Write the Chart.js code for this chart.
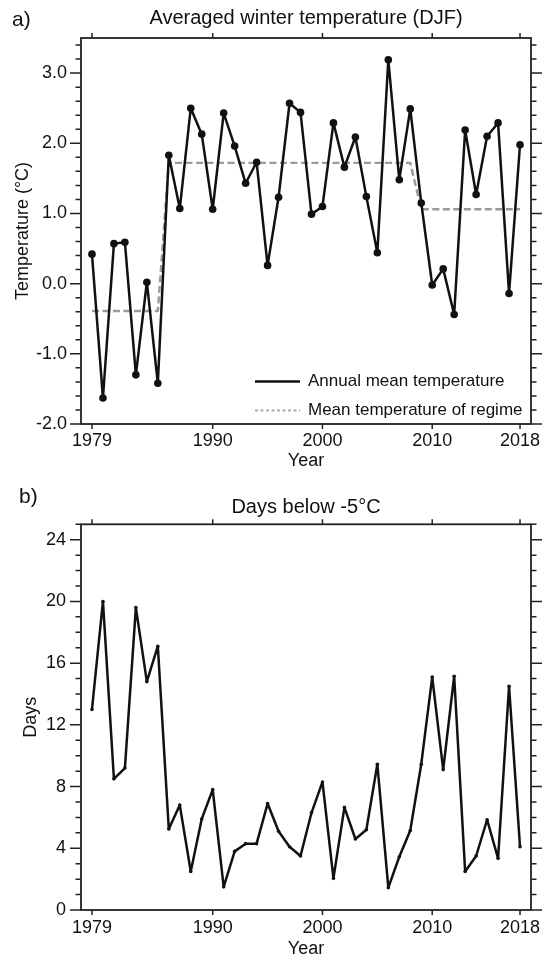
<!DOCTYPE html>
<html>
<head>
<meta charset="utf-8">
<script src="https://cdn.jsdelivr.net/npm/chart.js@4.4.0/dist/chart.umd.min.js"></script>
<style>
  html, body { margin: 0; padding: 0; background: #fff; }
  body { width: 549px; height: 960px; overflow: hidden; }
  .panel { position: relative; width: 549px; }
  #panel-a { height: 475px; }
  #panel-b { height: 485px; }
</style>
</head>
<body>
<div class="panel" id="panel-a"><canvas id="chart-a"></canvas></div>
<div class="panel" id="panel-b"><canvas id="chart-b"></canvas></div>
<script>
const YEARS = [1979, 1980, 1981, 1982, 1983, 1984, 1985, 1986, 1987, 1988,
  1989, 1990, 1991, 1992, 1993, 1994, 1995, 1996, 1997, 1998,
  1999, 2000, 2001, 2002, 2003, 2004, 2005, 2006, 2007, 2008,
  2009, 2010, 2011, 2012, 2013, 2014, 2015, 2016, 2017, 2018];

// winter (DJF) mean temperature, degC
const WINTER_TEMP = [0.42, -1.63, 0.57, 0.59, -1.30, 0.02, -1.42, 1.83, 1.07, 2.50,
  2.13, 1.06, 2.43, 1.96, 1.43, 1.73, 0.26, 1.23, 2.57, 2.44,
  0.99, 1.10, 2.29, 1.66, 2.09, 1.24, 0.44, 3.19, 1.48, 2.49,
  1.15, -0.02, 0.21, -0.44, 2.19, 1.27, 2.10, 2.29, -0.14, 1.98];

// mean of each regime
const REGIME_TEMP = [-0.39, -0.39, -0.39, -0.39, -0.39, -0.39, -0.39, 1.72, 1.72, 1.72,
  1.72, 1.72, 1.72, 1.72, 1.72, 1.72, 1.72, 1.72, 1.72, 1.72,
  1.72, 1.72, 1.72, 1.72, 1.72, 1.72, 1.72, 1.72, 1.72, 1.72,
  1.06, 1.06, 1.06, 1.06, 1.06, 1.06, 1.06, 1.06, 1.06, 1.06];

// days below -5 degC
const COLD_DAYS = [13.0, 20.0, 8.5, 9.2, 19.6, 14.8, 17.1, 5.25, 6.8, 2.5,
  5.9, 7.8, 1.5, 3.8, 4.3, 4.3, 6.9, 5.1, 4.1, 3.5,
  6.3, 8.3, 2.05, 6.65, 4.6, 5.2, 9.45, 1.45, 3.45, 5.15,
  9.45, 15.1, 9.1, 15.15, 2.5, 3.5, 5.85, 3.35, 14.5, 4.1];

const X_TICKS = [1979, 1990, 2000, 2010, 2018];

const FONT = "'Liberation Sans', Arial, Helvetica, sans-serif";
Chart.defaults.font.family = FONT;
Chart.defaults.color = '#111';

const toPoints = vals => YEARS.map((yr, i) => ({ x: yr, y: vals[i] }));

// box around the plot, outward major/minor ticks, panel title and letter
function frameTicks(opts) {
  return {
    id: 'frameTicks',
    afterDraw(chart) {
      const { ctx, chartArea: a, scales: { x, y } } = chart;
      ctx.save();
      ctx.strokeStyle = '#222';
      ctx.lineWidth = 1.8;
      ctx.strokeRect(a.left, a.top, a.right - a.left, a.bottom - a.top);

      ctx.lineWidth = 1.5;
      ctx.beginPath();
      const majors = y.ticks.map(t => t.value);
      majors.forEach(v => {
        const p = y.getPixelForValue(v);
        ctx.moveTo(a.left - 11, p); ctx.lineTo(a.left, p);
        ctx.moveTo(a.right, p); ctx.lineTo(a.right + 11, p);
      });
      for (let v = y.min; v <= y.max + 1e-9; v += opts.minorStep) {
        if (majors.some(m => Math.abs(m - v) < 1e-6)) continue;
        const p = y.getPixelForValue(v);
        ctx.moveTo(a.left - 5.5, p); ctx.lineTo(a.left, p);
        ctx.moveTo(a.right, p); ctx.lineTo(a.right + 5.5, p);
      }
      X_TICKS.forEach(v => {
        const p = x.getPixelForValue(v);
        ctx.moveTo(p, a.top - 5); ctx.lineTo(p, a.top);
        ctx.moveTo(p, a.bottom); ctx.lineTo(p, a.bottom + 5);
      });
      ctx.stroke();

      ctx.fillStyle = '#111';
      ctx.textBaseline = 'middle';
      ctx.textAlign = 'center';
      ctx.font = `20px ${FONT}`;
      ctx.fillText(opts.title, (a.left + a.right) / 2, opts.titleY);
      ctx.textAlign = 'left';
      ctx.font = `21px ${FONT}`;
      ctx.fillText(opts.letter, opts.letterX, opts.letterY);
      ctx.restore();
    }
  };
}

const regimeLegend = {
  id: 'regimeLegend',
  afterDatasetsDraw(chart) {
    const { ctx, chartArea: a } = chart;
    const x0 = a.right - 276;
    const rows = [a.bottom - 42.5, a.bottom - 13.5];
    chart.data.datasets.forEach((ds, i) => {
      ctx.save();
      ctx.strokeStyle = i === 0 ? ds.borderColor : '#aaa';
      ctx.lineWidth = i === 0 ? 2.5 : 1.8;
      ctx.setLineDash(i === 0 ? [] : [3, 2.5]);
      ctx.beginPath();
      ctx.moveTo(x0, rows[i]);
      ctx.lineTo(x0 + 45, rows[i]);
      ctx.stroke();
      ctx.fillStyle = '#111';
      ctx.font = `17px ${FONT}`;
      ctx.textBaseline = 'middle';
      ctx.fillText(ds.label, x0 + 53, rows[i]);
      ctx.restore();
    });
  }
};

function xAxis(height, pad, titlePad) {
  return {
    type: 'linear',
    min: 1978,
    max: 2019,
    afterBuildTicks: s => { s.ticks = X_TICKS.map(v => ({ value: v })); },
    afterFit: s => { s.height = height; },
    grid: { display: false, drawTicks: false },
    border: { display: false },
    ticks: { autoSkip: false, maxRotation: 0, padding: pad, font: { size: 18 }, callback: v => String(v) },
    title: { display: true, text: 'Year', font: { size: 18 }, padding: { top: 0, bottom: titlePad } }
  };
}

new Chart(document.getElementById('chart-a'), {
  type: 'line',
  data: {
    datasets: [{
      label: 'Annual mean temperature',
      data: toPoints(WINTER_TEMP),
      borderColor: '#111',
      backgroundColor: '#111',
      borderWidth: 2.5,
      borderJoinStyle: 'round',
      pointRadius: 3.8,
      pointBorderWidth: 0,
      tension: 0
    }, {
      label: 'Mean temperature of regime',
      data: toPoints(REGIME_TEMP),
      borderColor: '#9a9a9a',
      borderWidth: 2.4,
      borderDash: [7, 3.5],
      borderJoinStyle: 'round',
      pointRadius: 0,
      tension: 0
    }]
  },
  options: {
    responsive: true,
    maintainAspectRatio: false,
    animation: false,
    devicePixelRatio: 1,
    layout: { padding: { top: 38, right: 18, left: 0, bottom: 0 } },
    plugins: { legend: { display: false }, tooltip: { enabled: false }, title: { display: false } },
    scales: {
      x: xAxis(51, 6, 3),
      y: {
        min: -2,
        max: 3.5,
        afterFit: s => { s.width = 81; },
        grid: { display: false, drawTicks: false },
        border: { display: false },
        ticks: { stepSize: 1, includeBounds: false, padding: 14, font: { size: 18 }, callback: v => v.toFixed(1) },
        title: { display: true, text: 'Temperature (°C)', font: { size: 18 }, padding: { top: 12, bottom: 0 } }
      }
    }
  },
  plugins: [frameTicks({ minorStep: 0.2, title: 'Averaged winter temperature (DJF)', titleY: 18.5, letter: 'a)', letterX: 12, letterY: 20 }), regimeLegend]
});

new Chart(document.getElementById('chart-b'), {
  type: 'line',
  data: {
    datasets: [{
      label: 'Days below -5°C',
      data: toPoints(COLD_DAYS),
      borderColor: '#111',
      backgroundColor: '#111',
      borderWidth: 2.5,
      borderJoinStyle: 'round',
      pointRadius: 1.8,
      pointBorderWidth: 0,
      tension: 0
    }]
  },
  options: {
    responsive: true,
    maintainAspectRatio: false,
    animation: false,
    devicePixelRatio: 1,
    layout: { padding: { top: 49.3, right: 18, left: 0, bottom: 0 } },
    plugins: { legend: { display: false }, tooltip: { enabled: false }, title: { display: false } },
    scales: {
      x: xAxis(50, 7, 0),
      y: {
        min: 0,
        max: 25,
        afterFit: s => { s.width = 81; },
        grid: { display: false, drawTicks: false },
        border: { display: false },
        ticks: { stepSize: 4, includeBounds: false, padding: 15, font: { size: 18 } },
        title: { display: true, text: 'Days', font: { size: 18 }, padding: { top: 20, bottom: 0 } }
      }
    }
  },
  plugins: [frameTicks({ minorStep: 1, title: 'Days below -5°C', titleY: 32.5, letter: 'b)', letterX: 19, letterY: 22 })]
});
</script>
</body>
</html>
